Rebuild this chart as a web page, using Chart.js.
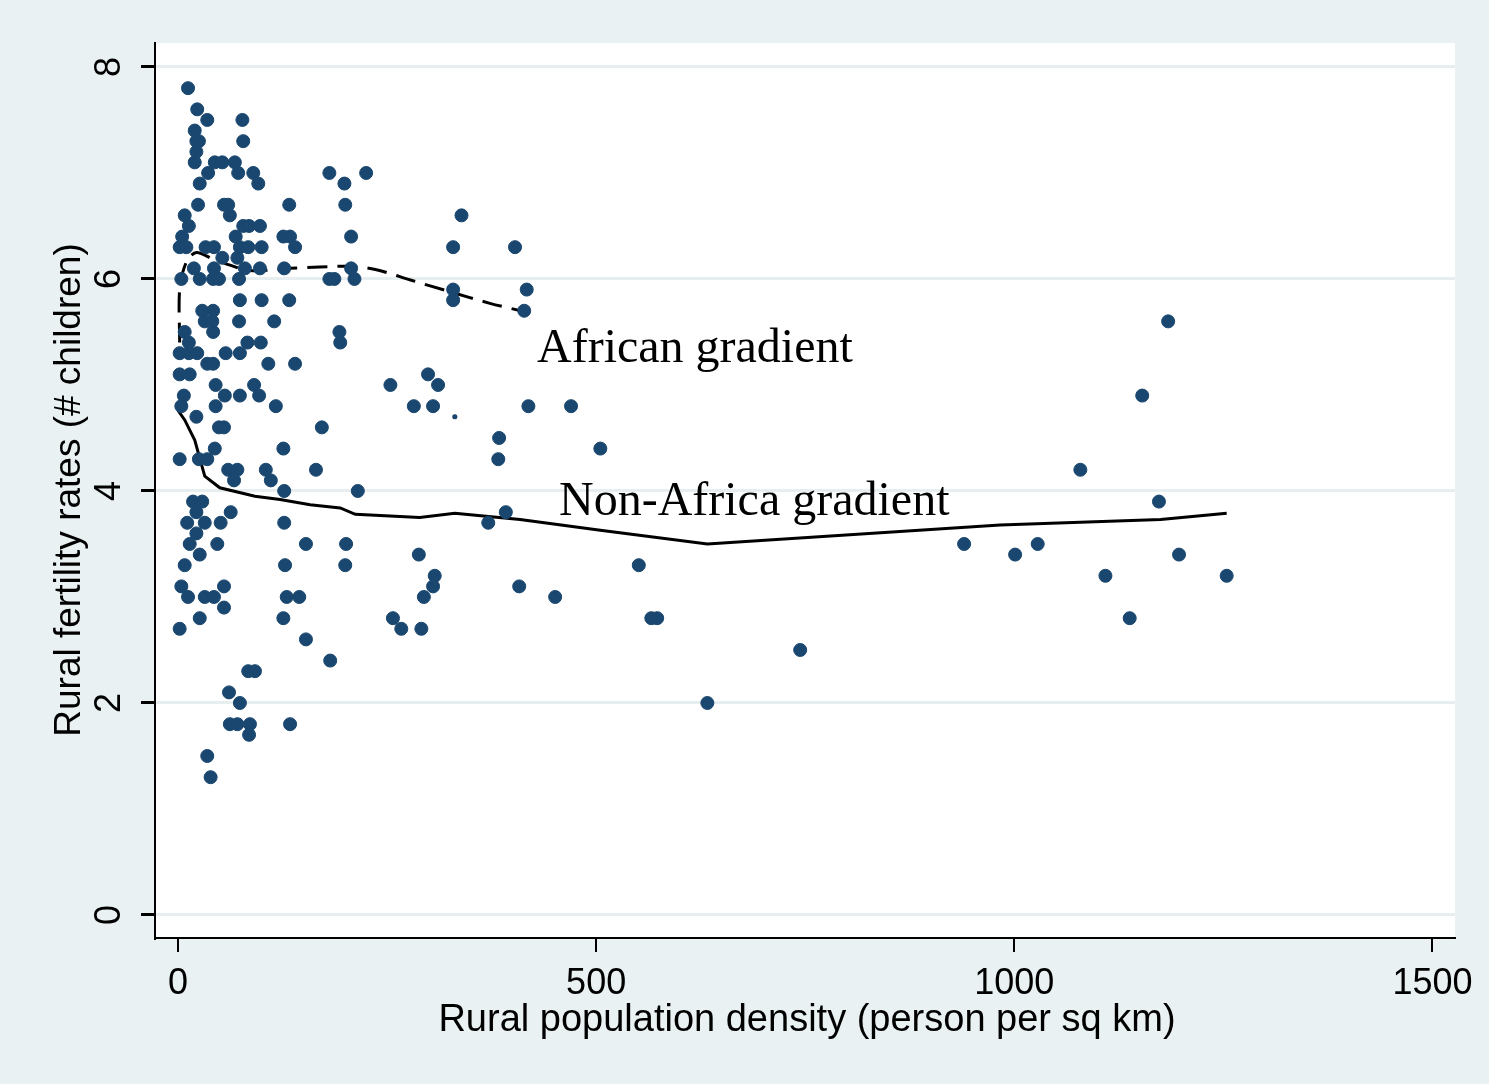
<!DOCTYPE html>
<html><head><meta charset="utf-8">
<script src="https://cdn.jsdelivr.net/npm/chart.js@4"></script>
<style>body{margin:0;background:#e9f1f3}canvas{display:block}</style>
</head><body>
<div style="width:1489px;height:1084px"><canvas id="c"></canvas></div>
<script>
// points: [density, fertility]
const countries = [
[12,7.8],[23,7.6],[20,7.4],[35,7.5],[77,7.5],[22,7.3],[25,7.3],[78,7.3],[22,7.2],
[20,7.1],[44,7.1],[53,7.1],[68,7.1],[36,7.0],[72,7.0],[90,7.0],[181,7.0],[225,7.0],
[26,6.9],[96,6.9],[199,6.9],[24,6.7],[55,6.7],[60,6.7],[133,6.7],[200,6.7],
[8,6.6],[62,6.6],[339,6.6],[13,6.5],[78,6.5],[85,6.5],[98,6.5],
[5,6.4],[69,6.4],[126,6.4],[134,6.4],[207,6.4],
[2,6.3],[10,6.3],[33,6.3],[43,6.3],[74,6.3],[84,6.3],[100,6.3],[140,6.3],[329,6.3],[403,6.3],
[53,6.2],[71,6.2],[19,6.1],[43,6.1],[80,6.1],[98,6.1],[127,6.1],[207,6.1],
[4,6.0],[26,6.0],[42,6.0],[49,6.0],[73,6.0],[181,6.0],[187,6.0],[211,6.0],
[417,5.9],[329,5.9],[74,5.8],[100,5.8],[133,5.8],[329,5.8],[29,5.7],[42,5.7],[414,5.7],
[32,5.6],[41,5.6],[73,5.6],[115,5.6],[1184,5.6],[8,5.5],[42,5.5],[193,5.5],
[13,5.4],[83,5.4],[99,5.4],[194,5.4],[2,5.3],[13,5.3],[23,5.3],[57,5.3],[74,5.3],
[35,5.2],[42,5.2],[108,5.2],[140,5.2],[2,5.1],[14,5.1],[299,5.1],
[45,5.0],[91,5.0],[254,5.0],[311,5.0],[7,4.9],[56,4.9],[74,4.9],[97,4.9],[1153,4.9],
[4,4.8],[45,4.8],[117,4.8],[282,4.8],[305,4.8],[419,4.8],[470,4.8],[22,4.7],
[49,4.6],[55,4.6],[172,4.6],[384,4.5],[44,4.4],[126,4.4],[505,4.4],
[2,4.3],[25,4.3],[35,4.3],[383,4.3],[60,4.2],[71,4.2],[105,4.2],[165,4.2],[1079,4.2],
[67,4.1],[111,4.1],[127,4.0],[215,4.0],[18,3.9],[29,3.9],[1173,3.9],
[22,3.8],[63,3.8],[392,3.8],[11,3.7],[32,3.7],[51,3.7],[127,3.7],[371,3.7],[22,3.6],
[14,3.5],[47,3.5],[153,3.5],[201,3.5],[940,3.5],[1001,3.4],[1028,3.5],
[26,3.4],[288,3.4],[1197,3.4],[8,3.3],[128,3.3],[200,3.3],[551,3.3],
[307,3.2],[1109,3.2],[1254,3.2],[4,3.1],[55,3.1],[305,3.1],[408,3.1],
[12,3.0],[32,3.0],[43,3.0],[130,3.0],[145,3.0],[294,3.0],[451,3.0],[55,2.9],
[26,2.8],[126,2.8],[257,2.8],[566,2.8],[573,2.8],[1138,2.8],[2,2.7],[267,2.7],[291,2.7],
[153,2.6],[744,2.5],[182,2.4],[84,2.3],[92,2.3],[61,2.1],[74,2.0],[633,2.0],
[62,1.8],[71,1.8],[86,1.8],[134,1.8],[85,1.7],[35,1.5],[39,1.3]
];
const tinyPoint = [[331,4.7]];
const africaLine = [[2,5.4],[2,5.9],[10,6.16],[22,6.25],[44,6.18],[86,6.08],[134,6.1],[206,6.12],[236,6.09],[278,5.99],[325,5.88],[373,5.77],[415,5.69]];
const otherLine = [[0,4.76],[8,4.67],[20,4.48],[32,4.14],[50,4.03],[92,3.95],[122,3.92],[158,3.87],[194,3.84],[212,3.78],[289,3.75],[331,3.79],[409,3.73],[505,3.63],[633,3.5],[983,3.68],[1175,3.73],[1254,3.79]];
const xTicks = [0,500,1000,1500];
const yTicks = [0,2,4,6,8];

const xy = a => a.map(p => ({x:p[0], y:p[1]}));
const font = '"Liberation Sans", Arial, sans-serif';

const extras = {
  id:'extras',
  beforeDraw(ch){
    const a = ch.chartArea, c = ch.ctx;
    c.save(); c.fillStyle='#fff'; c.fillRect(a.left,a.top,a.right-a.left,a.bottom-a.top); c.restore();
  },
  afterDraw(ch){
    const c = ch.ctx, ys = ch.scales.y, xs = ch.scales.x;
    c.save(); c.fillStyle='#000';
    c.font = '36px '+font; c.textAlign='center'; c.textBaseline='middle';
    yTicks.forEach(v => {
      c.save(); c.translate(110, ys.getPixelForValue(v)); c.rotate(-Math.PI/2); c.fillText(String(v),0,0); c.restore();
    });
    xTicks.forEach(v => c.fillText(String(v), xs.getPixelForValue(v), 984));
    c.font = '37px '+font;
    c.save(); c.translate(70, 490); c.rotate(-Math.PI/2); c.fillText('Rural fertility rates (# children)',0,0); c.restore();
    c.font = '38px '+font;
    c.fillText('Rural population density (person per sq km)', 807, 1021);
    c.font = '48px "Liberation Serif", "Times New Roman", serif'; c.textAlign='left';
    c.fillText('African gradient', 537, 349);
    c.fillText('Non-Africa gradient', 559, 502);
    c.restore();
  }
};

new Chart(document.getElementById('c'), {
  type:'scatter',
  data:{datasets:[
    {data:xy(countries), backgroundColor:'#1a476f', borderColor:'#1a476f', pointRadius:6.5, pointHoverRadius:6.5},
    {data:xy(tinyPoint), backgroundColor:'#1a476f', pointRadius:2.5},
    {type:'line', data:xy(africaLine), borderColor:'#000', borderWidth:3, borderDash:[20,10], pointRadius:0, fill:false, tension:0.3},
    {type:'line', data:xy(otherLine), borderColor:'#000', borderWidth:3, pointRadius:0, fill:false, tension:0}
  ]},
  options:{
    responsive:true, maintainAspectRatio:false, animation:false,
    layout:{padding:{top:43,right:34,left:0,bottom:0}},
    plugins:{legend:{display:false}, tooltip:{enabled:false}},
    scales:{
      x:{type:'linear', min:-27.5, max:1527,
        afterBuildTicks:s=>{s.ticks=xTicks.map(v=>({value:v}));},
        afterFit:s=>{s.height=146;},
        border:{color:'#000', width:2},
        grid:{drawOnChartArea:false, color:'#000', lineWidth:2, tickLength:14},
        ticks:{display:false}
      },
      y:{min:-0.217, max:8.226,
        afterBuildTicks:s=>{s.ticks=yTicks.map(v=>({value:v}));},
        afterFit:s=>{s.width=155;},
        border:{color:'#000', width:2},
        grid:{color:'#e6eef0', lineWidth:3, tickColor:'#000', tickLength:14},
        ticks:{display:false}
      }
    }
  },
  plugins:[extras]
});
</script>
</body></html>
